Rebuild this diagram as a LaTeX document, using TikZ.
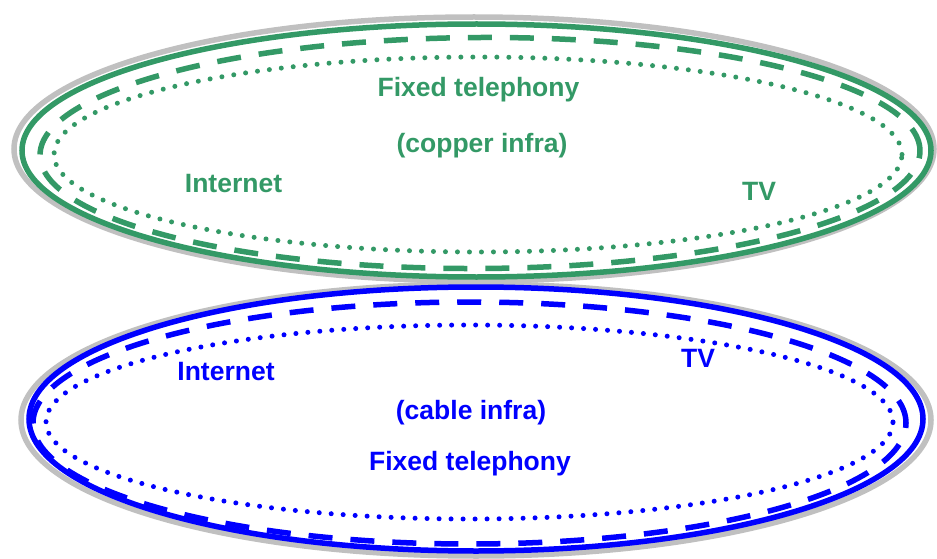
\documentclass[tikz,border=0pt]{standalone}
\usepackage{fontspec}
\setmainfont{Liberation Sans}
\definecolor{grn}{RGB}{51,153,102}
\definecolor{blu}{RGB}{0,0,255}
\definecolor{gry}{RGB}{192,192,192}
\begin{document}
\begin{tikzpicture}[x=1pt,y=-1pt,
  solidring/.style={line width=5.5pt},
  dashring/.style={line width=5.5pt,dash pattern=on 24pt off 18pt},
  dotring/.style={line width=5pt,line cap=round,dash pattern=on 0pt off 12pt},
  lbl/.style={font=\fontsize{26.5}{30}\selectfont\bfseries,anchor=base,inner sep=0pt}]
\useasboundingbox (0,0) rectangle (937,559);
% gray outlines
\draw[gry,solidring] (474,149) ellipse [x radius=460pt,y radius=132pt];
\draw[gry,solidring] (476,420) ellipse [x radius=455pt,y radius=136pt];
% top (green)
\draw[grn,solidring] (476.5,150.5) ellipse [x radius=454.5pt,y radius=126.5pt];
\draw[grn,dashring,rotate around={0.3:(480,153)}] (480,153) ellipse [x radius=440pt,y radius=115.5pt];
\draw[grn,dotring] (478,154.5) ellipse [x radius=424pt,y radius=97.5pt];
% bottom (blue)
\draw[blu,solidring] (476,419) ellipse [x radius=447pt,y radius=132pt];
\draw[blu,dashring] (469.5,423) ellipse [x radius=436.5pt,y radius=121pt];
\draw[blu,dotring] (469.5,422) ellipse [x radius=423.5pt,y radius=97pt];
% labels
\node[lbl,text=grn] (tft) at (478.5,97) {Fixed telephony};
\node[lbl,text=grn] (tci) at (482,153) {(copper infra)};
\node[lbl,text=grn] (tin) at (233.5,193) {Internet};
\node[lbl,text=grn] (ttv) at (759,200) {TV};
\node[lbl,text=blu] (bin) at (226,380) {Internet};
\node[lbl,text=blu] (btv) at (698,367) {TV};
\node[lbl,text=blu] (bci) at (471,419) {(cable infra)};
\node[lbl,text=blu] (bft) at (470,470) {Fixed telephony};
\end{tikzpicture}
\end{document}
